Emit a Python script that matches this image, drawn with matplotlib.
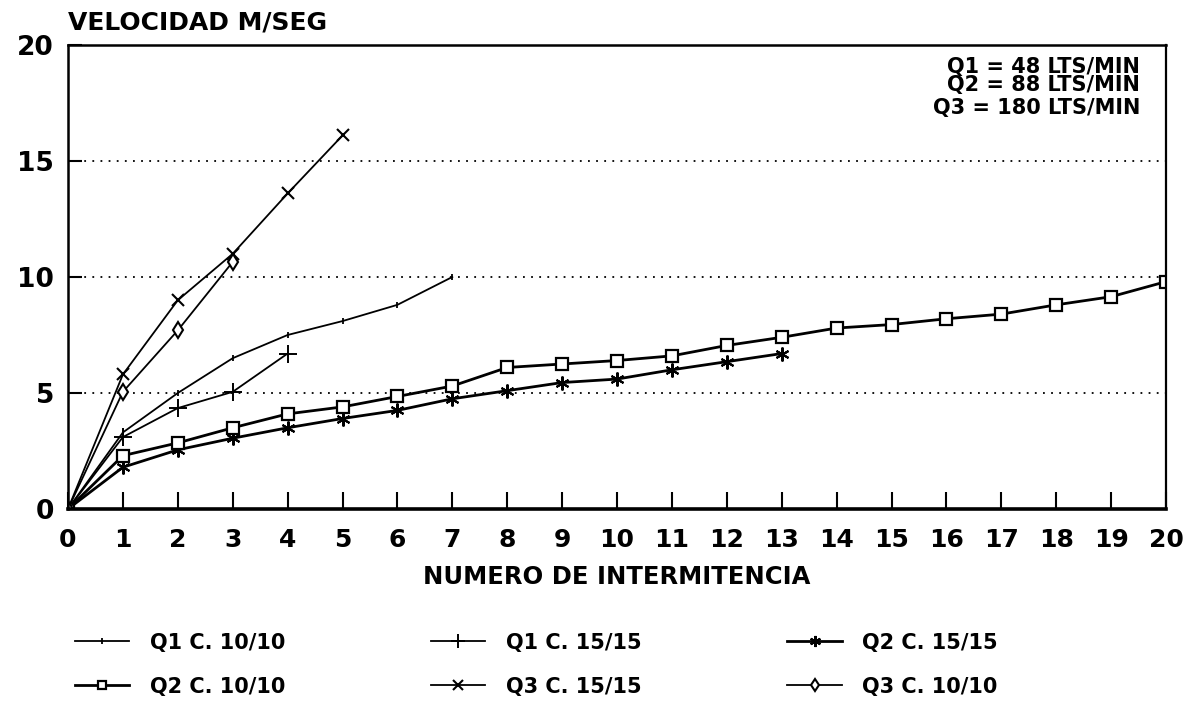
import matplotlib
matplotlib.use("Agg")
import matplotlib.pyplot as plt
from matplotlib.lines import Line2D

plt.rcParams['font.family'] = ['DejaVu Sans']
plt.rcParams['font.weight'] = 'bold'

# Intermittence number (x) and velocity in m/s (y) for each test series
x_q1_c1010 = [0, 1, 2, 3, 4, 5, 6, 7]
v_q1_c1010 = [0, 3.3, 5.0, 6.5, 7.5, 8.1, 8.8, 10.0]

x_q1_c1515 = [0, 1, 2, 3, 4]
v_q1_c1515 = [0, 3.1, 4.35, 5.05, 6.7]

x_q2_c1515 = list(range(0, 14))
v_q2_c1515 = [0, 1.8, 2.55, 3.05, 3.5, 3.9, 4.25, 4.75, 5.1, 5.45, 5.6,
              6.0, 6.35, 6.7]

x_q2_c1010 = list(range(0, 21))
v_q2_c1010 = [0, 2.3, 2.85, 3.5, 4.1, 4.4, 4.85, 5.3, 6.1, 6.25, 6.4,
              6.6, 7.05, 7.4, 7.8, 7.95, 8.2, 8.4, 8.8, 9.15, 9.8]

x_q3_c1515 = [0, 1, 2, 3, 4, 5]
v_q3_c1515 = [0, 5.8, 9.0, 11.0, 13.6, 16.1]

x_q3_c1010 = [0, 1, 2, 3]
v_q3_c1010 = [0, 5.05, 7.7, 10.65]

x_ticks = list(range(0, 21))
y_ticks = [0, 5, 10, 15, 20]
flow_notes = ["Q1 = 48 LTS/MIN", "Q2 = 88 LTS/MIN", "Q3 = 180 LTS/MIN"]

fig = plt.figure(figsize=(11.93, 7.06), dpi=100)
ax = fig.add_axes([68 / 1193, 1 - 509 / 706, (1166 - 68) / 1193, (509 - 45) / 706])

k = 'black'
asterisk = (6, 2, 0)
l_q1a, = ax.plot(x_q1_c1010, v_q1_c1010, color=k, lw=1.3, marker='|', ms=5, mew=1.3)
l_q1b, = ax.plot(x_q1_c1515, v_q1_c1515, color=k, lw=1.3, marker='+', ms=13, mew=1.4)
l_q2b, = ax.plot(x_q2_c1515, v_q2_c1515, color=k, lw=2.0, marker=asterisk, ms=10,
                 mew=1.5)
l_q2a, = ax.plot(x_q2_c1010, v_q2_c1010, color=k, lw=2.0, marker='s', ms=8,
                 mfc='white', mew=1.6)
l_q3b, = ax.plot(x_q3_c1515, v_q3_c1515, color=k, lw=1.3, marker='x', ms=9, mew=1.5)
l_q3a, = ax.plot(x_q3_c1010, v_q3_c1010, color=k, lw=1.3, marker='d', ms=8,
                 mfc='white', mew=1.5)

ax.set_xlim(0, 20)
ax.set_ylim(0, 20)
ax.set_xticks(x_ticks)
ax.set_yticks(y_ticks)
ax.tick_params(axis='x', direction='in', length=12, width=1.5, labelsize=18, pad=14)
ax.tick_params(axis='y', direction='in', length=10, width=1.5, labelsize=19, pad=10)
for lab in ax.get_xticklabels() + ax.get_yticklabels():
    lab.set_fontweight('bold')

for y in y_ticks[1:-1]:
    ax.axhline(y, color=k, lw=1.3, ls=(0, (1, 3.5)), zorder=0)

ax.spines['bottom'].set_linewidth(2.6)
ax.spines['left'].set_linewidth(1.8)
ax.spines['top'].set_linewidth(1.8)
ax.spines['right'].set_linewidth(1.6)

ax.set_xlabel("NUMERO DE INTERMITENCIA", fontsize=17.5, fontweight='bold', labelpad=9)
fig.text(68 / 1193, 1 - 22 / 706, "VELOCIDAD M/SEG", fontsize=18, fontweight='bold',
         ha='left', va='center')

for note, ypx in zip(flow_notes, [67, 85, 108]):
    fig.text(1140 / 1193, 1 - ypx / 706, note, fontsize=15, fontweight='bold',
             ha='right', va='center')

handles = [l_q1a, l_q2a, l_q1b, l_q3b, l_q2b, l_q3a]
labels = ["Q1 C. 10/10", "Q2 C. 10/10", "Q1 C. 15/15", "Q3 C. 15/15",
          "Q2 C. 15/15", "Q3 C. 10/10"]
leg_handles = [Line2D([], [], color=k, lw=h.get_linewidth(), marker=h.get_marker(),
                      ms=h.get_markersize() * 0.8, mfc='white', mew=h.get_markeredgewidth())
               for h in handles]
fig.legend(leg_handles, labels, ncol=3, loc='upper left',
           bbox_to_anchor=(56 / 1193, 1 - 614 / 706), frameon=False,
           prop={'size': 15, 'weight': 'bold'}, handlelength=2.6,
           handletextpad=1.0, columnspacing=7.0, labelspacing=1.15)

fig.savefig("out.png", dpi=100, facecolor='white')
